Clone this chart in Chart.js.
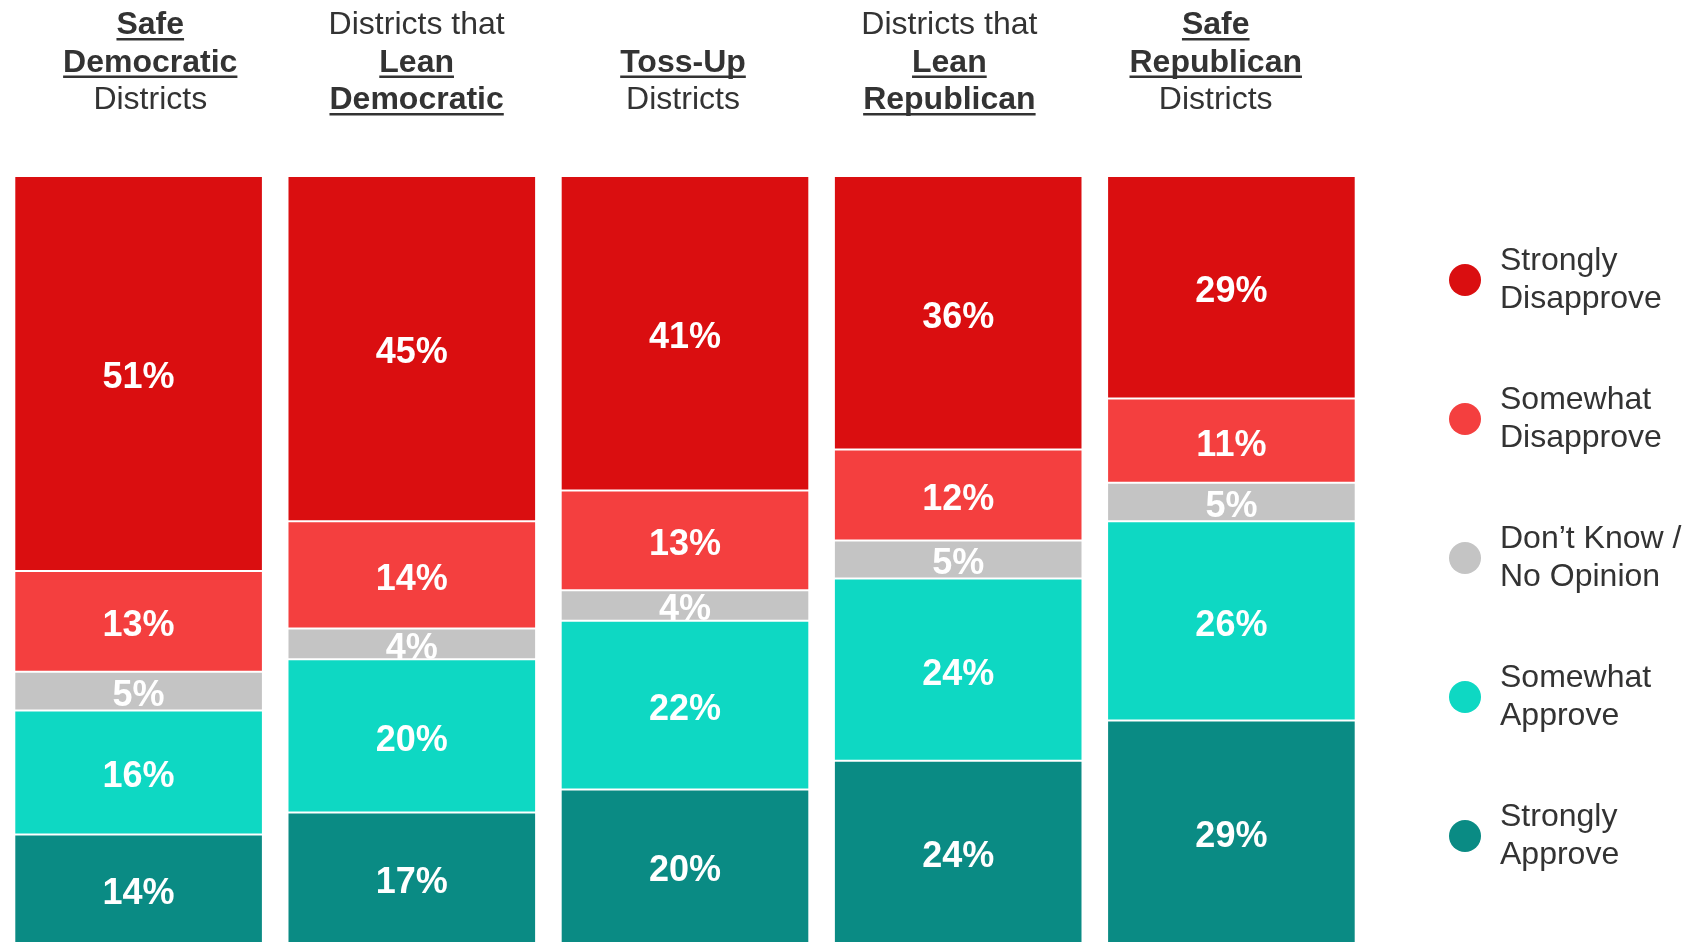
<!DOCTYPE html>
<html>
<head>
<meta charset="utf-8">
<script src="https://cdn.jsdelivr.net/npm/chart.js@4/dist/chart.umd.min.js"></script>
<style>
  html, body { margin: 0; padding: 0; background: #fff; }
  #wrap { width: 1708px; height: 943px; position: relative; }
</style>
</head>
<body>
<div id="wrap"><canvas id="barChart"></canvas></div>
<script>
// categories (headers: [text, emphasised] per line)
const categories = ["Safe Democratic", "Lean Democratic", "Toss-Up", "Lean Republican", "Safe Republican"];
const headers = [
    [[["Safe", true]], [["Democratic", true]], [["Districts", false]]],
    [[["Districts that", false]], [["Lean", true]], [["Democratic", true]]],
    [[], [["Toss-Up", true]], [["Districts", false]]],
    [[["Districts that", false]], [["Lean", true]], [["Republican", true]]],
    [[["Safe", true]], [["Republican", true]], [["Districts", false]]]
];

// series values (percent)
const strongDisapprove = [51, 45, 41, 36, 29];
const someDisapprove   = [13, 14, 13, 12, 11];
const dontKnow         = [5, 4, 4, 5, 5];
const someApprove      = [16, 20, 22, 24, 26];
const strongApprove    = [14, 17, 20, 24, 29];

const seriesNames = ["Strongly Approve", "Somewhat Approve", "Don\u2019t Know / No Opinion", "Somewhat Disapprove", "Strongly Disapprove"];
const seriesValues = [strongApprove, someApprove, dontKnow, someDisapprove, strongDisapprove];
const seriesColors = ["#0A8B84", "#0ED8C3", "#C4C4C4", "#F43F3F", "#DA0E10"];

// legend, top to bottom
const legendLines = [
    ["Strongly", "Disapprove"],
    ["Somewhat", "Disapprove"],
    ["Don\u2019t Know /", "No Opinion"],
    ["Somewhat", "Approve"],
    ["Strongly", "Approve"]
];
const legendColors = ["#DA0E10", "#F43F3F", "#C4C4C4", "#0ED8C3", "#0A8B84"];

const FONT = '"Liberation Sans", Arial, sans-serif';

// each column is drawn as a full 100% bar
const totals = categories.map((c, i) => seriesValues.reduce((s, arr) => s + arr[i], 0));

const datasets = seriesValues.map((vals, k) => ({
    label: seriesNames[k],
    data: vals.map((v, i) => v / totals[i] * 100),
    raw: vals,
    backgroundColor: seriesColors[k],
    borderColor: "rgba(255,255,255,0.08)",
    borderWidth: 1,
    borderSkipped: false
}));

const overlay = {
    id: "overlay",
    afterDatasetsDraw(chart) {
        const ctx = chart.ctx;
        const xs = chart.scales.x;

        // value labels inside segments
        ctx.save();
        ctx.fillStyle = "#fff";
        ctx.font = "bold 36px " + FONT;
        ctx.textAlign = "center";
        ctx.textBaseline = "middle";
        chart.data.datasets.forEach((ds, k) => {
            chart.getDatasetMeta(k).data.forEach((bar, i) => {
                const y = (bar.y + bar.base) / 2;
                ctx.fillText(ds.raw[i] + "%", bar.x, y + 5);
            });
        });
        ctx.restore();

        // column headers
        ctx.save();
        ctx.fillStyle = "#333";
        ctx.textAlign = "center";
        ctx.textBaseline = "alphabetic";
        const mid = xs.getPixelForValue(2);
        headers.forEach((lines, i) => {
            const cx = mid + (xs.getPixelForValue(i) - mid) * 0.975 - 2;
            lines.forEach((parts, j) => {
                parts.forEach(([txt, strong]) => {
                    const by = 34 + j * 37.5;
                    ctx.font = (strong ? "bold " : "") + "32px " + FONT;
                    ctx.fillText(txt, cx, by);
                    if (strong) {
                        const w = ctx.measureText(txt).width;
                        ctx.fillRect(cx - w / 2, by + 4, w, 2.5);
                    }
                });
            });
        });
        ctx.restore();

        // legend
        ctx.save();
        legendLines.forEach((lines, i) => {
            const cy = 280 + i * 139;
            ctx.beginPath();
            ctx.fillStyle = legendColors[i];
            ctx.arc(1465, cy, 16, 0, Math.PI * 2);
            ctx.fill();
            ctx.fillStyle = "#333";
            ctx.font = "32px " + FONT;
            ctx.textAlign = "left";
            ctx.textBaseline = "middle";
            ctx.fillText(lines[0], 1500, cy - 19);
            ctx.fillText(lines[1], 1500, cy + 19);
        });
        ctx.restore();
    }
};

new Chart(document.getElementById("barChart").getContext("2d"), {
    type: "bar",
    data: { labels: categories, datasets: datasets },
    options: {
        responsive: true,
        maintainAspectRatio: false,
        animation: false,
        layout: { padding: { left: 2, right: 340, top: 176, bottom: 0 } },
        datasets: { bar: { categoryPercentage: 1, barPercentage: 0.91 } },
        scales: {
            x: { stacked: true, display: false },
            y: { stacked: true, display: false, min: 0, max: 100 }
        },
        plugins: {
            legend: { display: false },
            tooltip: { enabled: false }
        }
    },
    plugins: [overlay]
});
</script>
</body>
</html>
